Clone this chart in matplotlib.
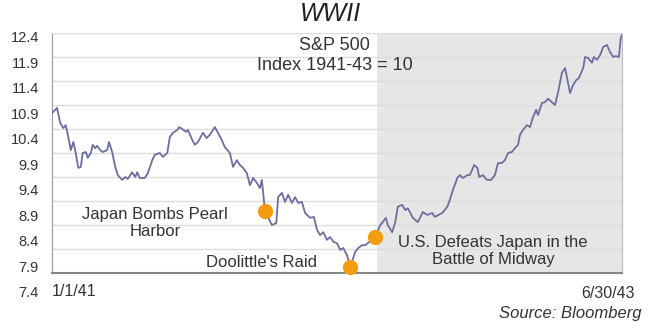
import matplotlib.pyplot as plt
import numpy as np

plt.rcParams['font.family'] = ['Liberation Sans', 'DejaVu Sans']

# S&P 500, index 1941-43 = 10 (days since 1/1/41, value)
days = [0, 8, 13, 18, 22, 26, 30, 34, 37, 42, 46, 49, 54, 57, 62, 65, 69, 72, 77, 81,
        88, 91, 96, 101, 105, 112, 117, 121, 128, 133, 136, 140, 148, 153, 160, 164, 172, 177, 184, 188,
        193, 200, 203, 208, 214, 217, 224, 228, 233, 241, 247, 252, 260, 265, 271, 276, 284, 289, 295, 300,
        305, 311, 316, 321, 327, 332, 335, 340, 351, 358, 361, 367, 372, 377, 383, 388, 393, 399, 404, 412,
        418, 423, 428, 433, 439, 444, 449, 455, 460, 465, 471, 476, 484, 489, 495, 500, 504, 516, 524, 528,
        533, 536, 543, 548, 552, 559, 564, 568, 576, 584, 592, 599, 607, 611, 623, 631, 635, 640, 647, 651,
        656, 663, 667, 674, 679, 682, 688, 694, 701, 707, 712, 718, 723, 728, 734, 739, 744, 747, 752, 758,
        763, 768, 773, 776, 782, 787, 792, 798, 803, 808, 814, 819, 822, 827, 832, 837, 841, 848, 851, 856,
        862, 865, 870, 875, 880, 886, 891, 896, 900, 905, 908, 910]
values = [10.73, 10.84, 10.53, 10.42, 10.48, 10.23, 9.96, 10.13, 9.96, 9.59, 9.61, 9.90, 9.92, 9.80, 9.90, 10.07, 10.00, 10.05, 9.96, 9.92,
          9.96, 10.13, 9.92, 9.61, 9.44, 9.34, 9.40, 9.36, 9.50, 9.40, 9.50, 9.38, 9.38, 9.48, 9.75, 9.86, 9.90, 9.82, 9.90, 10.23,
          10.32, 10.38, 10.44, 10.40, 10.34, 10.38, 10.17, 10.07, 10.13, 10.32, 10.21, 10.28, 10.44, 10.32, 10.17, 10.02, 9.90, 9.61, 9.75, 9.65,
          9.59, 9.48, 9.23, 9.38, 9.28, 9.17, 9.34, 8.69, 8.40, 8.44, 8.98, 9.07, 8.88, 9.03, 8.86, 8.98, 8.86, 8.88, 8.65, 8.55,
          8.57, 8.30, 8.19, 8.25, 8.09, 8.15, 8.05, 8.02, 7.88, 7.92, 7.77, 7.52, 7.84, 7.92, 7.98, 7.98, 8.02, 8.15, 8.40, 8.46,
          8.55, 8.40, 8.25, 8.46, 8.78, 8.82, 8.71, 8.75, 8.55, 8.46, 8.67, 8.61, 8.65, 8.57, 8.65, 8.78, 8.92, 9.13, 9.38, 9.44,
          9.38, 9.44, 9.44, 9.65, 9.59, 9.40, 9.44, 9.34, 9.34, 9.44, 9.69, 9.69, 9.75, 9.90, 9.92, 10.00, 10.07, 10.28, 10.38, 10.48,
          10.44, 10.65, 10.80, 10.69, 10.94, 10.96, 11.03, 10.96, 10.90, 11.17, 11.57, 11.67, 11.48, 11.15, 11.32, 11.42, 11.46, 11.67, 11.90, 11.88,
          11.78, 11.90, 11.84, 11.94, 12.11, 12.15, 12.00, 11.90, 11.92, 11.90, 12.30, 12.36]

dates = np.datetime64('1941-01-01') + np.array(days).astype('timedelta64[D]')

# events marked with dots
event_dates = np.array(['1941-12-07', '1942-04-22', '1942-06-01'], dtype='datetime64[D]')
event_values = [8.69, 7.52, 8.15]
midway_start = np.datetime64('1942-06-04')
end_date = np.datetime64('1943-06-30')

yticks = np.arange(7.4, 12.45, 0.5)
ytick_labels = ['%.1f' % t for t in yticks]

fig = plt.figure(figsize=(6.51, 3.29), dpi=100)

# tick labels sit on their own axis (spacing differs from the gridlines)
ax2 = fig.add_axes([0.0799, 0.1134, 0.8756, 0.775])
ax2.set_ylim(7.4, 12.4)
ax2.set_yticks(yticks)
ax2.set_yticklabels(ytick_labels)
ax2.tick_params(axis='y', length=0, pad=9.4, labelsize=10.5, labelcolor='#333333')
ax2.set_xticks([])
for s in ax2.spines.values():
    s.set_visible(False)
ax2.patch.set_visible(False)

ax = fig.add_axes([0.0799, 0.1702, 0.8756, 0.7295])
ax.set_xlim(dates[0], end_date)
ax.set_ylim(7.4, 12.4)
ax.set_yticks(yticks)
ax.set_yticklabels([])
ax.set_xticks([])
ax.tick_params(axis='y', length=0)
ax.grid(axis='y', color='#dcdcdc', lw=1)
ax.set_axisbelow(True)

ax.axvspan(midway_start, end_date, color='#e6e6e6', zorder=0, lw=0)
ax.plot(dates, values, color='#6e6e9e', lw=1.3, zorder=3)
ax.plot(event_dates, event_values, 'o', color='#f59d10', ms=11, mec='none', zorder=4, clip_on=False)

ax.spines['left'].set_color('#999999')
ax.spines['bottom'].set_color('#888888')
ax.spines['bottom'].set_linewidth(1.5)
ax.spines['top'].set_color('#dddddd')
ax.spines['right'].set_color('#bbbbbb')

txt = dict(transform=ax.transAxes, ha='center', va='center', color='#333333', zorder=5)
ax.text(0.496, 0.906, 'S&P 500\nIndex 1941-43 = 10', fontsize=13, linespacing=1.25, **txt)
ax.text(0.181, 0.208, 'Japan Bombs Pearl\nHarbor', fontsize=12, linespacing=1.1, **txt)
ax.text(0.367, 0.042, "Doolittle's Raid", fontsize=12, **txt)
ax.text(0.774, 0.092, 'U.S. Defeats Japan in the\nBattle of Midway', fontsize=12, linespacing=1.1, **txt)

fig.text(0.507, 0.957, 'WWII', fontsize=18, style='italic', ha='center', va='center', color='#222222')
fig.text(0.0799, 0.1125, '1/1/41', fontsize=11.5, ha='left', va='center', color='#333333')
fig.text(0.975, 0.1094, '6/30/43', fontsize=11.5, ha='right', va='center', color='#333333')
fig.text(0.986, 0.0486, 'Source: Bloomberg', fontsize=12, style='italic', ha='right', va='center', color='#333333')

plt.savefig('out.png', dpi=100)
